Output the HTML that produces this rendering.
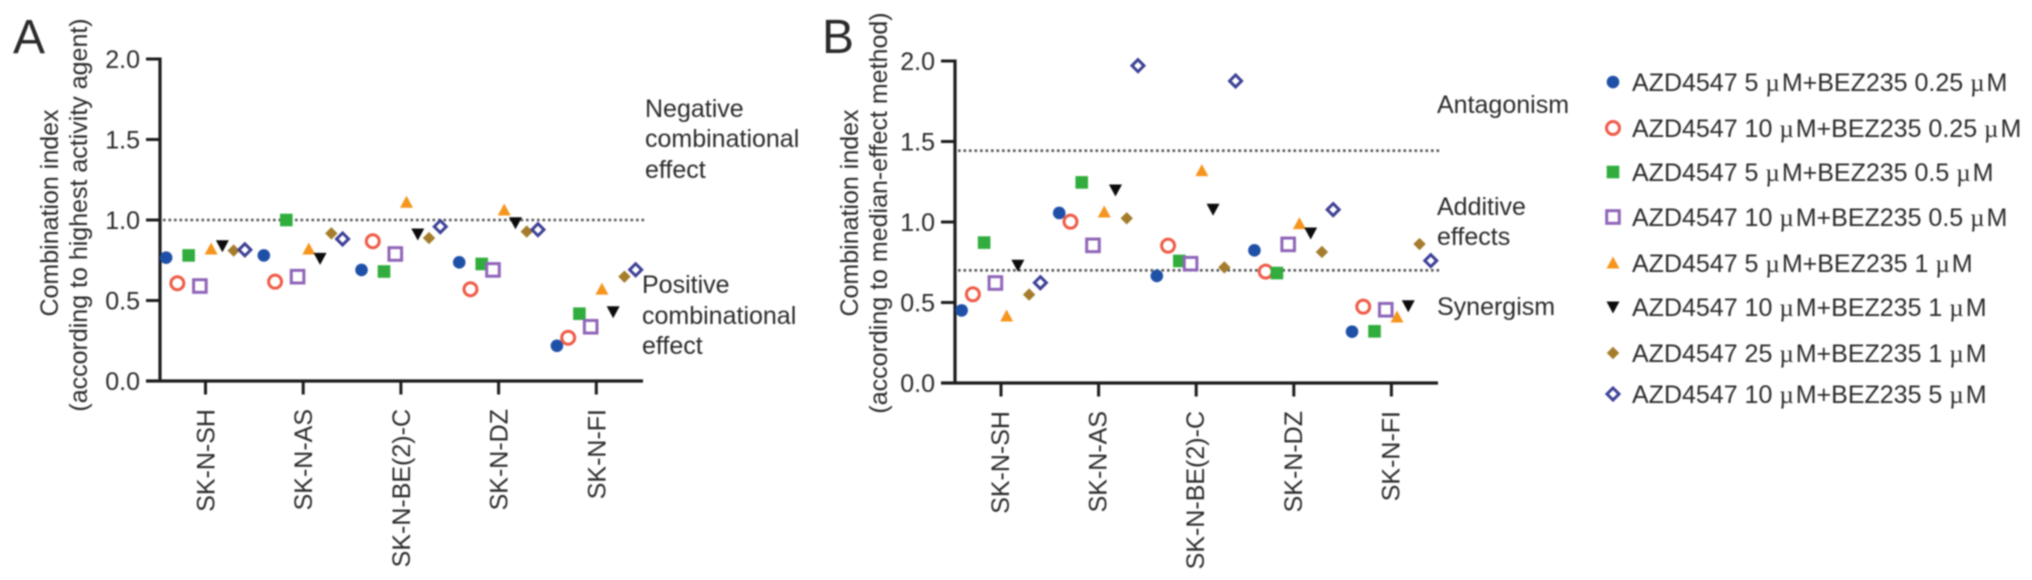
<!DOCTYPE html>
<html lang="en">
<head>
<meta charset="utf-8">
<title>Combination index charts</title>
<style>
html,body{margin:0;padding:0;background:#fff;}
body{width:2032px;height:580px;overflow:hidden;}
svg{display:block;filter:blur(0.7px);}
text{font-family:"Liberation Sans",sans-serif;font-size:25px;fill:#2b2b2b;}
.mu{font-family:"Liberation Serif",serif;letter-spacing:2px;}
</style>
</head>
<body>
<svg id="figure" xmlns="http://www.w3.org/2000/svg" width="2032" height="580" viewBox="0 0 2032 580">
  <rect width="2032" height="580" fill="#fff"/>
  <text x="13" y="53" style="font-size:48px">A</text>
  <text x="822" y="53" style="font-size:48px">B</text>

  <text transform="translate(58,213) rotate(-90)" text-anchor="middle">Combination index</text>
  <text transform="translate(87,215) rotate(-90)" text-anchor="middle">(according to highest activity agent)</text>
  <text transform="translate(858,213) rotate(-90)" text-anchor="middle">Combination index</text>
  <text transform="translate(887,213) rotate(-90)" text-anchor="middle">(according to median-effect method)</text>

  <g>
    <text x="645" y="117">Negative</text>
    <text x="645" y="147">combinational</text>
    <text x="645" y="178">effect</text>
    <text x="642" y="293">Positive</text>
    <text x="642" y="324">combinational</text>
    <text x="642" y="354">effect</text>
  </g>
  <g>
    <text x="1437" y="113">Antagonism</text>
    <text x="1437" y="215">Additive</text>
    <text x="1437" y="245">effects</text>
    <text x="1437" y="315">Synergism</text>
  </g>

  <g id="panelA"></g>
  <g id="panelB"></g>

  <g>
    <g><g class="lm" data-series="0" transform="translate(1613,82)"></g><text x="1632" y="91">AZD4547 5 <tspan class="mu">µ</tspan>M+BEZ235 0.25 <tspan class="mu">µ</tspan>M</text></g>
    <g><g class="lm" data-series="1" transform="translate(1613,128)"></g><text x="1632" y="137">AZD4547 10 <tspan class="mu">µ</tspan>M+BEZ235 0.25 <tspan class="mu">µ</tspan>M</text></g>
    <g><g class="lm" data-series="2" transform="translate(1613,172)"></g><text x="1632" y="181">AZD4547 5 <tspan class="mu">µ</tspan>M+BEZ235 0.5 <tspan class="mu">µ</tspan>M</text></g>
    <g><g class="lm" data-series="3" transform="translate(1613,217)"></g><text x="1632" y="226">AZD4547 10 <tspan class="mu">µ</tspan>M+BEZ235 0.5 <tspan class="mu">µ</tspan>M</text></g>
    <g><g class="lm" data-series="4" transform="translate(1613,263)"></g><text x="1632" y="272">AZD4547 5 <tspan class="mu">µ</tspan>M+BEZ235 1 <tspan class="mu">µ</tspan>M</text></g>
    <g><g class="lm" data-series="5" transform="translate(1613,307)"></g><text x="1632" y="316">AZD4547 10 <tspan class="mu">µ</tspan>M+BEZ235 1 <tspan class="mu">µ</tspan>M</text></g>
    <g><g class="lm" data-series="6" transform="translate(1613,353)"></g><text x="1632" y="362">AZD4547 25 <tspan class="mu">µ</tspan>M+BEZ235 1 <tspan class="mu">µ</tspan>M</text></g>
    <g><g class="lm" data-series="7" transform="translate(1613,394)"></g><text x="1632" y="403">AZD4547 10 <tspan class="mu">µ</tspan>M+BEZ235 5 <tspan class="mu">µ</tspan>M</text></g>
  </g>
</svg>
<script>
// Chart data
const categories = ["SK-N-SH", "SK-N-AS", "SK-N-BE(2)-C", "SK-N-DZ", "SK-N-FI"];
const yTickValues = [0, 0.5, 1, 1.5, 2];
const yTickLabels = ["0.0", "0.5", "1.0", "1.5", "2.0"];

// Panel A: one array per combination, one value per cell line
const panelA_5_025 = [0.766, 0.78, 0.69, 0.737, 0.219];
const panelA_10_025 = [0.607, 0.617, 0.868, 0.57, 0.269];
const panelA_5_05 = [0.78, 1.0, 0.68, 0.727, 0.418];
const panelA_10_05 = [0.59, 0.648, 0.789, 0.69, 0.337];
const panelA_5_1 = [0.82, 0.82, 1.11, 1.062, 0.571];
const panelA_10_1 = [0.84, 0.762, 0.913, 0.983, 0.43];
const panelA_25_1 = [0.81, 0.917, 0.888, 0.928, 0.648];
const panelA_10_5 = [0.815, 0.882, 0.959, 0.94, 0.691];
const panelAReference = [1.0];

// Panel B
const panelB_5_025 = [0.451, 1.056, 0.665, 0.824, 0.319];
const panelB_10_025 = [0.551, 1.002, 0.853, 0.692, 0.474];
const panelB_5_05 = [0.872, 1.246, 0.758, 0.683, 0.321];
const panelB_10_05 = [0.621, 0.855, 0.741, 0.861, 0.455];
const panelB_5_1 = [0.416, 1.062, 1.319, 0.99, 0.41];
const panelB_10_1 = [0.731, 1.199, 1.079, 0.932, 0.48];
const panelB_25_1 = [0.549, 1.023, 0.718, 0.814, 0.863];
const panelB_10_5 = [0.623, 1.971, 1.876, 1.077, 0.76];
const panelBReference = [1.443, 0.70];

const seriesNamesList = ["5uM-0.25uM", "10uM-0.25uM", "5uM-0.5uM", "10uM-0.5uM", "5uM-1uM", "10uM-1uM", "25uM-1uM", "10uM-5uM"];

const panelASeries = [panelA_5_025, panelA_10_025, panelA_5_05, panelA_10_05, panelA_5_1, panelA_10_1, panelA_25_1, panelA_10_5];
const panelBSeries = [panelB_5_025, panelB_10_025, panelB_5_05, panelB_10_05, panelB_5_1, panelB_10_1, panelB_25_1, panelB_10_5];

const NS = "http://www.w3.org/2000/svg";

function make(parent, tag, attrs) {
  const el = document.createElementNS(NS, tag);
  for (const k in attrs) el.setAttribute(k, attrs[k]);
  parent.appendChild(el);
  return el;
}

function drawMarker(parent, series, x, y) {
  let el;
  if (series === 0) {
    el = make(parent, "circle", {cx: x, cy: y, r: 6.3, fill: "#1f50a8"});
  } else if (series === 1) {
    el = make(parent, "circle", {cx: x, cy: y, r: 6.5, fill: "#fff", stroke: "#ee5b47", "stroke-width": 3});
  } else if (series === 2) {
    el = make(parent, "rect", {x: x - 6.3, y: y - 6.3, width: 12.6, height: 12.6, fill: "#30ad3d"});
  } else if (series === 3) {
    el = make(parent, "rect", {x: x - 6.3, y: y - 6.3, width: 12.6, height: 12.6, fill: "#fff", stroke: "#8f65b8", "stroke-width": 3});
  } else if (series === 4) {
    el = make(parent, "polygon", {points: (x) + "," + (y - 6.5) + " " + (x + 6.5) + "," + (y + 5.5) + " " + (x - 6.5) + "," + (y + 5.5), fill: "#f6951e"});
  } else if (series === 5) {
    el = make(parent, "polygon", {points: (x - 6.5) + "," + (y - 5.5) + " " + (x + 6.5) + "," + (y - 5.5) + " " + (x) + "," + (y + 6.5), fill: "#0c0c0c"});
  } else if (series === 6) {
    el = make(parent, "polygon", {points: (x) + "," + (y - 6.2) + " " + (x + 6.2) + "," + (y) + " " + (x) + "," + (y + 6.2) + " " + (x - 6.2) + "," + (y), fill: "#a57c2c"});
  } else {
    el = make(parent, "polygon", {points: (x) + "," + (y - 6) + " " + (x + 6) + "," + (y) + " " + (x) + "," + (y + 6) + " " + (x - 6) + "," + (y), fill: "#fff", stroke: "#3d4096", "stroke-width": 3});
  }
  return el;
}

function drawPanel(root, cfg, seriesList, refValues) {
  const yScale = v => cfg.y0 + (cfg.y2 - cfg.y0) * (v / 2);
  const xScale = i => cfg.firstTick + i * cfg.tickStep;
  const dodge = s => (s - 3.5) * 11.25;

  refValues.forEach(function (v) {
    const ref = make(root, "line", {x1: cfg.axisX + 3, x2: cfg.refEnd, y1: yScale(v), y2: yScale(v), stroke: "#555", "stroke-width": 2.6, "stroke-dasharray": "2.6 2.9"});
    
    
  });

  const yAxis = make(root, "line", {x1: cfg.axisX, x2: cfg.axisX, y1: yScale(2) - 1.5, y2: yScale(0) + 1.5, stroke: "#1c1c1c", "stroke-width": 3.2});
  
  
  const xAxis = make(root, "line", {x1: cfg.axisX - 14, x2: cfg.axisEnd, y1: yScale(0), y2: yScale(0), stroke: "#1c1c1c", "stroke-width": 3.2});
  
  

  yTickValues.forEach(function (v, i) {
    const tick = make(root, "line", {x1: cfg.axisX - 14, x2: cfg.axisX, y1: yScale(v), y2: yScale(v), stroke: "#1c1c1c", "stroke-width": 3});
    
    
    const label = make(root, "text", {x: cfg.axisX - 20, y: yScale(v) + 9, "text-anchor": "end"});
    
    
    label.textContent = yTickLabels[i];
  });

  categories.forEach(function (c, i) {
    const tick = make(root, "line", {x1: xScale(i), x2: xScale(i), y1: yScale(0), y2: yScale(0) + 13.5, stroke: "#1c1c1c", "stroke-width": 3});
    
    
    const label = make(root, "text", {transform: "translate(" + (xScale(i) + cfg.labelShift) + "," + (yScale(0) + 28) + ") rotate(-90)", "text-anchor": "end"});
    
    
    label.textContent = c;
  });

  seriesList.forEach(function (vals, s) {
    const group = make(root, "g", {});
    
    
    vals.forEach(function (v, i) {
      const mark = drawMarker(group, s, xScale(i) + dodge(s), yScale(v));
      
      
    });
  });
}

drawPanel(document.getElementById("panelA"),
  {axisX: 160, axisEnd: 643, refEnd: 646, y0: 381, y2: 59, firstTick: 205.5, tickStep: 97.7, labelShift: 9},
  panelASeries, panelAReference);
drawPanel(document.getElementById("panelB"),
  {axisX: 955, axisEnd: 1438, refEnd: 1440, y0: 383, y2: 61, firstTick: 1001, tickStep: 97.6, labelShift: 8},
  panelBSeries, panelBReference);

document.querySelectorAll(".lm").forEach(function (g) {
  const mark = drawMarker(g, Number(g.getAttribute("data-series")), 0, 0);
  
  
});
</script>
</body>
</html>
